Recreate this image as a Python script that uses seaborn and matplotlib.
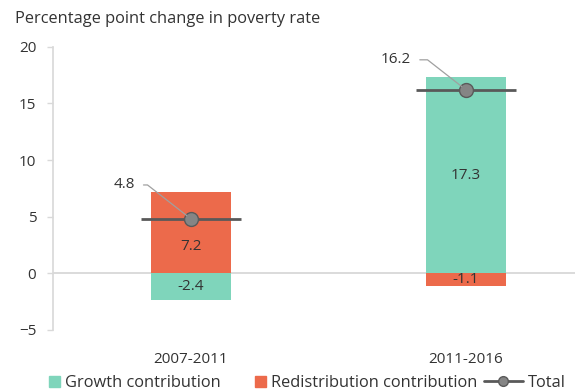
import matplotlib
matplotlib.use("Agg")
import matplotlib.pyplot as plt
import seaborn as sns
import pandas as pd
from matplotlib.lines import Line2D
from matplotlib.patches import Patch
from matplotlib.legend_handler import HandlerLine2D

periods = ["2007-2011", "2011-2016"]
growth = [-2.4, 17.3]
redistribution = [7.2, -1.1]
total = [4.8, 16.2]

series_names = ["Growth contribution", "Redistribution contribution"]
colors = {"Growth contribution": "#7fd5bb", "Redistribution contribution": "#ec6a4b"}

df = pd.DataFrame({
    "period": periods * 2,
    "value": growth + redistribution,
    "series": [series_names[0]] * 2 + [series_names[1]] * 2,
})

sns.set_theme(style="white")
plt.rcParams["font.family"] = ["Open Sans", "DejaVu Sans"]
txt = "#333333"

fig = plt.figure(figsize=(5.85, 3.9), dpi=100)
ax = fig.add_axes([0.0906, 0.154, 0.892, 0.726])

sns.barplot(data=df, x="period", y="value", hue="series", dodge=False,
            palette=colors, saturation=1, width=0.29, ax=ax, legend=False,
            linewidth=0, zorder=2)

ax.axhline(0, color="#d4d4d4", lw=1.2, zorder=1)

# totals: horizontal bar with dot
for i, t in enumerate(total):
    ax.hlines(t, i - 0.183, i + 0.183, color="#595959", lw=2, zorder=5)
sns.scatterplot(x=list(range(len(total))), y=total, ax=ax, s=100,
                color="#858585", edgecolor="#5a5a5a", linewidth=1, zorder=6,
                legend=False)

# value labels inside bars (kept clear of the total marker)
for i in range(len(periods)):
    for vals in (growth, redistribution):
        v = vals[i]
        y = v / 2
        if v > 0 and abs(total[i] - y) < 1.5:
            y = total[i] / 2
        ax.text(i, y, f"{v:.1f}", ha="center", va="center", fontsize=11,
                color=txt, zorder=7)

# total labels with leader lines
offsets = [(-0.205, 3.0), (-0.2, 2.65)]
for i, t in enumerate(total):
    dx, dy = offsets[i]
    ax.annotate(f"{t:.1f}", xy=(i, t), xytext=(i + dx, t + dy),
                ha="right", va="center", fontsize=11, color=txt,
                arrowprops=dict(arrowstyle="-", color="#a0a0a0", lw=0.9,
                                connectionstyle="angle,angleA=0,angleB=142,rad=0",
                                shrinkA=4, shrinkB=4), zorder=8)

ax.set_ylim(-5, 20)
ax.set_yticks([-5, 0, 5, 10, 15, 20])
ax.set_xlim(-0.502, 1.396)
ax.set_xlabel("")
ax.set_ylabel("")
ax.tick_params(axis="y", labelsize=11, labelcolor=txt, length=4, width=1,
               color="#d9d9d9", pad=8, left=True)
ax.tick_params(axis="x", labelsize=11, labelcolor=txt, length=0, pad=16)
for s in ["top", "right", "bottom"]:
    ax.spines[s].set_visible(False)
ax.spines["left"].set_color("#d9d9d9")

fig.text(0.026, 0.951, "Percentage point change in poverty rate", fontsize=11.8,
         color=txt, ha="left", va="center")

total_handle = Line2D([0], [0], color="#595959", lw=2, marker="o", markersize=7,
                      markerfacecolor="#858585", markeredgecolor="#5a5a5a",
                      label="Total")
handles = [
    Patch(color=colors[series_names[0]], label=series_names[0]),
    Patch(color=colors[series_names[1]], label=series_names[1]),
    total_handle,
]
fig.legend(handles=handles, loc="center", bbox_to_anchor=(0.525, 0.018), ncol=3,
           frameon=False, fontsize=11.8, handlelength=0.7, handleheight=0.7,
           columnspacing=2.07, handletextpad=0.3, labelcolor=txt,
           handler_map={total_handle: HandlerLine2D(xpad=-1.7)})

fig.savefig("out.png", dpi=100)
